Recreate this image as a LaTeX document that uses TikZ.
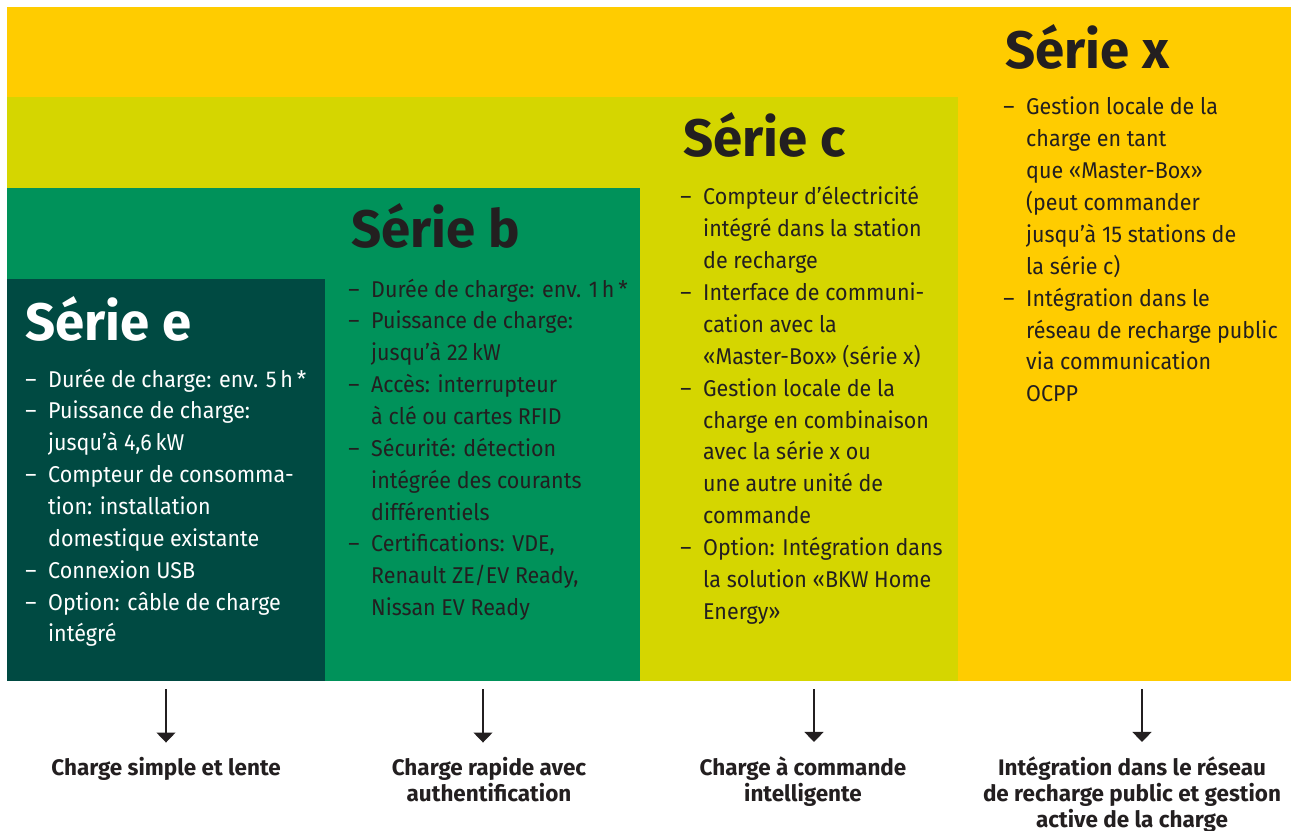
\documentclass[tikz,border=0pt]{standalone}
\usepackage{fontspec}
\setmainfont{Fira Sans}[FakeStretch=0.94]
\newfontfamily\titrefont{Fira Sans}
\usetikzlibrary{arrows.meta}
\definecolor{jaune}{HTML}{FFCC00}
\definecolor{jaunevert}{HTML}{D5D600}
\definecolor{vert}{HTML}{00925A}
\definecolor{vertfonce}{HTML}{004A42}
\definecolor{texte}{HTML}{231F20}
\newcommand{\liste}[1]{\begin{tabular}[t]{@{}p{13pt}@{}l@{}}#1\end{tabular}}
\newcommand{\leg}[1]{\begin{tabular}[t]{@{}c@{}}#1\end{tabular}}
\tikzset{
  titre/.style={anchor=base west, inner sep=0pt, text=texte,
    font=\titrefont\bfseries\fontsize{30}{36}\selectfont},
  puces/.style={anchor=base west, inner sep=0pt, text=texte,
    font=\fontsize{13}{18.14}\selectfont},
  legende/.style={anchor=base, inner sep=0pt, text=texte,
    font=\titrefont\bfseries\fontsize{12.8}{14.74}\selectfont},
  fleche/.style={-{Triangle[width=10.8pt,length=5.7pt]}, line width=0.8pt,
    draw=texte, shorten >=7.9pt}
}
\begin{document}
\begin{tikzpicture}[x=0.02cm, y=-0.02cm]
\useasboundingbox (0,0) rectangle (1291,831);
% Rectangles
\fill[jaune] (7,7) rectangle (1291,681);
\fill[jaunevert] (7,97) rectangle (958,681);
\fill[vert] (7,188) rectangle (640,681);
\fill[vertfonce] (7,279) rectangle (325,681);
% Titres
\node[titre, text=white] (te) at (25,340) {Série e};
\node[titre] (tb) at (351,248) {Série b};
\node[titre] (tc) at (683,157) {Série c};
\node[titre] (tx) at (1005,69) {Série x};
% Listes
\node[puces, text=white] (le) at (25,387) {\liste{
 – & Durée de charge: env. 5\,h\,*\\
 – & Puissance de charge:\\
   & jusqu'à 4,6\,kW\\
 – & Compteur de consomma-\\
   & tion: installation\\
   & domestique existante\\
 – & Connexion USB\\
 – & Option: câble de charge\\
   & intégré}};
\node[puces] (lb) at (348,297) {\liste{
 – & Durée de charge: env. 1\,h\,*\\
 – & Puissance de charge:\\
   & jusqu'à 22\,kW\\
 – & Accès: interrupteur\\
   & à clé ou cartes RFID\\
 – & Sécurité: détection\\
   & intégrée des courants\\
   & différentiels\\
 – & Certifications: VDE,\\
   & Renault ZE/EV Ready,\\
   & Nissan EV Ready}};
\node[puces] (lc) at (680,205) {\liste{
 – & Compteur d'électricité\\
   & intégré dans la station\\
   & de recharge\\
 – & Interface de communi-\\
   & cation avec la\\
   & «Master-Box» (série x)\\
 – & Gestion locale de la\\
   & charge en combinaison\\
   & avec la série x ou\\
   & une autre unité de\\
   & commande\\
 – & Option: Intégration dans\\
   & la solution «BKW Home\\
   & Energy»}};
\node[puces] (lx) at (1003,115) {\liste{
 – & Gestion locale de la\\
   & charge en tant\\
   & que «Master-Box»\\
   & (peut commander\\
   & jusqu'à 15 stations de\\
   & la série c)\\
 – & Intégration dans le\\
   & réseau de recharge public\\
   & via communication\\
   & OCPP}};
% Légendes
\node[legende] (ge) at (166,775) {\leg{Charge simple et lente}};
\node[legende] (gb) at (489,775) {\leg{Charge rapide avec\\authentification}};
\node[legende] (gc) at (803,775) {\leg{Charge à commande\\intelligente}};
\node[legende] (gx) at (1132,775) {\leg{Intégration dans le réseau\\de recharge public et gestion\\active de la charge}};
% Flèches
\coordinate (fe) at (166,689);
\coordinate (fb) at (483,689);
\coordinate (fc) at (814,689);
\coordinate (fx) at (1142,689);
\draw[fleche] (fe) -- (fe |- ge.north);
\draw[fleche] (fb) -- (fb |- gb.north);
\draw[fleche] (fc) -- (fc |- gc.north);
\draw[fleche] (fx) -- (fx |- gx.north);
\end{tikzpicture}
\end{document}
